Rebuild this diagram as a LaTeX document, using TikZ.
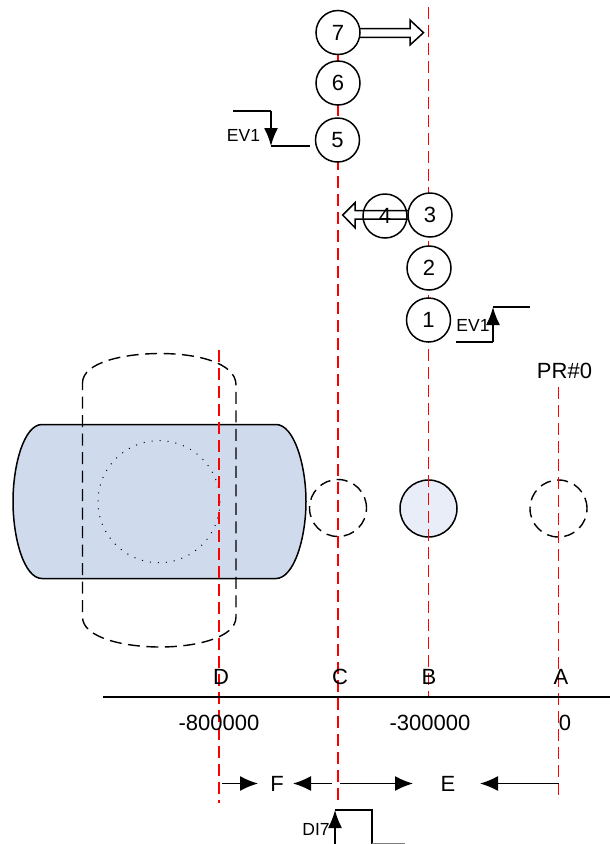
\documentclass[tikz,border=0pt]{standalone}
\usepackage{fontspec}
\setmainfont{Liberation Sans}
\usetikzlibrary{arrows.meta}
\definecolor{bodyblue}{HTML}{CFDAEC}
\definecolor{paleblue}{HTML}{E8EDF7}
\tikzset{
  redline/.style={draw=red,line width=1.5pt,dash pattern=on 12pt off 6pt},
  seqcircle/.style={circle,draw=black,fill=white,line width=1.5pt,minimum size=44pt,inner sep=0pt,font=\fontsize{22}{24}\selectfont},
  bigtext/.style={inner sep=0pt,font=\fontsize{22}{24}\selectfont},
  smalltext/.style={inner sep=0pt,font=\fontsize{17.5}{19}\selectfont},
  dashring/.style={circle,draw=black,line width=1.4pt,dash pattern=on 11pt off 6.5pt,minimum size=57pt,inner sep=0pt},
  solidarrow/.style={line width=1.5pt,-{Latex[length=18pt,width=15pt]}},
  sigarrow/.style={line width=1.6pt,-{Latex[length=18pt,width=14pt]}},
  sigline/.style={line width=1.6pt},
  hollow/.style={draw=black,line width=1.5pt,line join=miter}
}
\begin{document}
\begin{tikzpicture}[x=1pt,y=-1pt]
\useasboundingbox (0,0) rectangle (610,844);
% body
\path[fill=bodyblue,draw=black,line width=1.5pt]
  (42,424.5) -- (276,424.5)
  .. controls (294,424.5) and (306,465) .. (306,501.5)
  .. controls (306,538) and (294,578.5) .. (276,578.5)
  -- (42,578.5)
  .. controls (24,578.5) and (13,538) .. (13,501.5)
  .. controls (13,465) and (24,424.5) .. (42,424.5) -- cycle;
\draw[black,line width=1pt,dash pattern=on 1pt off 7pt] (159,501.7) circle[radius=61];
% swing outline
\draw[black,line width=1.4pt,dash pattern=on 12pt off 6.5pt]
  (82.5,383) .. controls (82.5,362) and (125,353.5) .. (160,353.5)
  .. controls (195,353.5) and (236,362) .. (236,385)
  -- (236,617)
  .. controls (236,638) and (195,647) .. (160,647)
  .. controls (125,647) and (82.5,638) .. (82.5,617) -- cycle;
% rings
\node[dashring] (ringC) at (338,508) {};
\node[circle,draw=black,fill=paleblue,line width=1.5pt,minimum size=57pt,inner sep=0pt] (ringB) at (428.5,508.5) {};
\node[dashring] (ringA) at (558.5,508.5) {};
% red lines
\coordinate (Atop) at (558.5,387); \coordinate (Abot) at (558.5,800);
\coordinate (Btop) at (428.5,7);   \coordinate (Bbot) at (428.5,696);
\coordinate (Ctop) at (338,32);    \coordinate (Cbot) at (338,805);
\coordinate (Dtop) at (219,350);   \coordinate (Dbot) at (219,803);
\draw[redline] (Btop) -- (Bbot);
\draw[redline] (Ctop) -- (Cbot);
\draw[redline] (Dtop) -- (Dbot);
\draw[redline] (Atop) -- (Abot);
% sequence circles
\node[seqcircle] (n7) at (338,32.5) {7};
\node[seqcircle] (n6) at (338,83) {6};
\node[seqcircle] (n5) at (337.5,140) {5};
\node[seqcircle] (n4) at (385,216) {4};
\node[seqcircle] (n3) at (430,215) {3};
\node[seqcircle] (n2) at (429,268) {2};
\node[seqcircle] (n1) at (428.5,320) {1};
% hollow arrows
\draw[hollow] (360,28.7) -- (410,28.7) -- (410,20) -- (423.5,32.7) -- (410,45) -- (410,37.3) -- (360,37.3);
\draw[hollow] (408,210.7) -- (355,210.7) -- (355,202.7) -- (342.7,215) -- (355,227.7) -- (355,219) -- (408,219);
% signals
\coordinate (s1a) at (233,111); \coordinate (s1b) at (271,111); \coordinate (s1c) at (271,146); \coordinate (s1d) at (310,146);
\draw[sigline] (s1a) -- (s1b);
\draw[sigarrow] (s1b) -- (s1c);
\draw[sigline] (s1c) -- (s1d);
\node[smalltext] (ev1a) at (243.5,135) {EV1};
\coordinate (s2a) at (456,342); \coordinate (s2b) at (493,342); \coordinate (s2c) at (493,307); \coordinate (s2d) at (530,307);
\draw[sigline] (s2a) -- (s2b);
\draw[sigarrow] (s2b) -- (s2c);
\draw[sigline] (s2c) -- (s2d);
\node[smalltext] (ev1b) at (473,325.5) {EV1};
\coordinate (s3a) at (335,844); \coordinate (s3b) at (335,810); \coordinate (s3c) at (372,810); \coordinate (s3d) at (372,844); \coordinate (s3e) at (405,844);
\draw[sigarrow] (s3a) -- (s3b);
\draw[sigline] (s3b) -- (s3c) -- (s3d);
\draw[gray,line width=1.6pt] (s3d) -- (s3e);
\node[smalltext] (di7) at (316,829) {DI7};
\node[bigtext] (pr) at (564.5,371) {PR\#0};
% axis
\coordinate (ax1) at (103,697); \coordinate (ax2) at (610,697);
\draw[black,line width=2.4pt] (ax1) -- (ax2);
\node[bigtext] (lD) at (221,677) {D};
\node[bigtext] (lC) at (340,677) {C};
\node[bigtext] (lB) at (429,677) {B};
\node[bigtext] (lA) at (561,677) {A};
\node[bigtext] (v8) at (219,722.5) {-800000};
\node[bigtext] (v3) at (430,722.5) {-300000};
\node[bigtext] (v0) at (565,722.5) {0};
% distance labels
\node[bigtext] (F) at (277,783.5) {F};
\node[bigtext] (E) at (448,783.5) {E};
\coordinate (f1) at (222,783.5); \coordinate (f2) at (332,783.5);
\coordinate (e1) at (340,783.5); \coordinate (e2) at (558.5,783.5);
\draw[solidarrow] (f1) -- (258,783.5);
\draw[solidarrow] (f2) -- (293,783.5);
\draw[solidarrow] (e1) -- (413,783.5);
\draw[solidarrow] (e2) -- (480,783.5);
\end{tikzpicture}
\end{document}
